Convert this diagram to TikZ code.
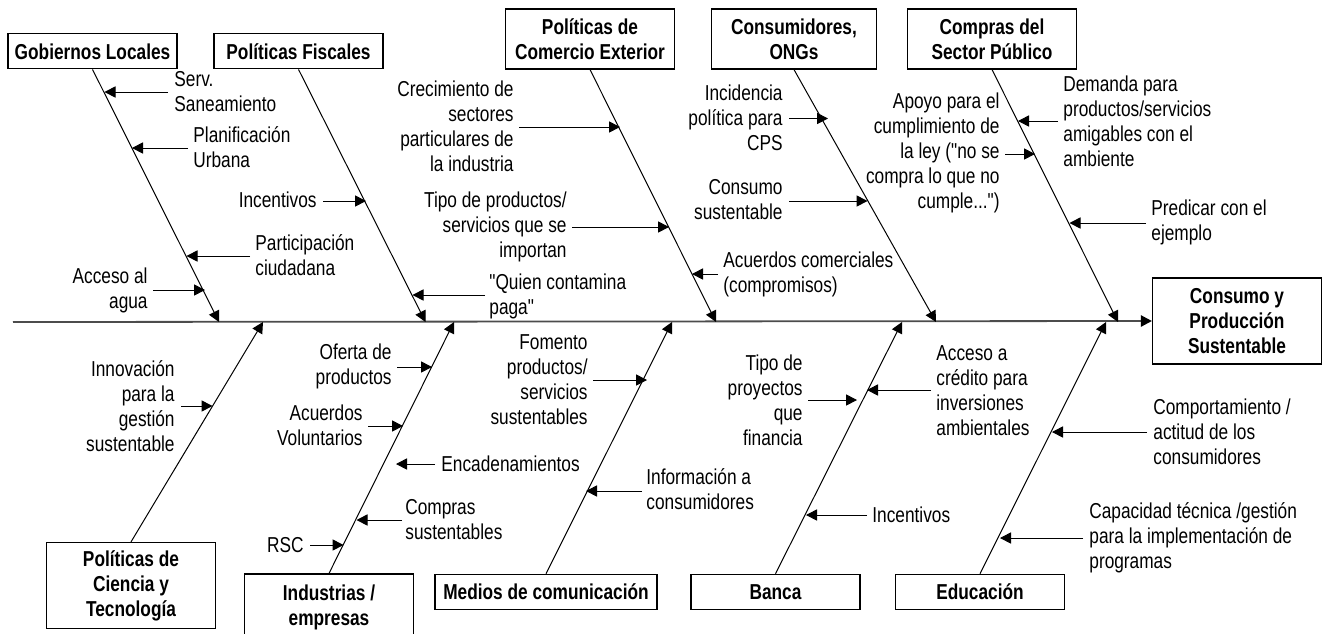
\documentclass[tikz,border=0pt]{standalone}
\usepackage{fontspec}
\setmainfont{Liberation Sans}[FakeStretch=0.80,Ligatures=TeXOff]
\usetikzlibrary{arrows.meta,positioning}

\tikzset{
  causebox/.style={draw,line width=0.6pt,inner sep=0pt,align=center,
    font=\bfseries\fontsize{10.8}{12.5}\selectfont,
    minimum width=84.5pt,minimum height=17.5pt},
  sublbl/.style={inner sep=0pt,font=\fontsize{10.8}{12.5}\selectfont},
  onleft/.style={anchor=east,align=right},
  onright/.style={anchor=west,align=left},
  tip/.style={-{Triangle[length=5.5pt,width=5.6pt,color=black]}},
  bone/.style={tip,line width=0.5pt},
  spine/.style={tip,line width=0.9pt,draw=black!70}
}

\begin{document}
\begin{tikzpicture}[x=0.5pt,y=-0.5pt]
  \useasboundingbox (0,0) rectangle (1328,633);

  % effect and spine
  \node[causebox,minimum height=43pt] (efecto) at (1237,321) {Consumo y\\Producción\\Sustentable};
  \coordinate (cola) at (13,322);
  \draw[spine] (cola) -- (efecto.west);

  % main causes, top row
  \node[causebox] (gob) at (92.5,51.3) {Gobiernos Locales};
  \node[causebox] (fis) at (298.5,51.3) {Políticas Fiscales};
  \node[causebox,minimum height=30pt] (com) at (590,39) {Políticas de\\Comercio Exterior};
  \node[causebox,minimum height=30pt,minimum width=82.5pt] (con) at (794,39) {Consumidores,\\ONGs};
  \node[causebox,minimum height=30pt] (cmp) at (992,39) {Compras del\\Sector Público};

  % main causes, bottom row
  \node[causebox,minimum height=43pt] (cie) at (131,585.5) {Políticas de\\Ciencia y\\Tecnología};
  \node[causebox,minimum height=33pt] (ind) at (329,607) {Industrias /\\empresas};
  \node[causebox,minimum width=111pt] (med) at (546,591.8) {Medios de comunicación};
  \node[causebox] (ban) at (775.5,591.8) {Banca};
  \node[causebox] (edu) at (980,591.8) {Educación};

  % bones
  \foreach \b/\sx in {gob/219,fis/425.5,com/716,con/936,cmp/1118} {
    \coordinate (\b-sp) at (\sx,322);
    \draw[bone] (\b.south) -- (\b-sp);
  }
  \foreach \b/\sx in {cie/263,ind/454,med/672,ban/902,edu/1106} {
    \coordinate (\b-sp) at (\sx,322);
    \draw[bone] (\b.north) -- (\b-sp);
  }

  % sub-causes
  \foreach \txt/\pos/\tx/\ty/\ax/\bx/\ay [count=\i] in {
      {Serv.\\Saneamiento}/onright/174/92/168/104.5/92,
      {Planificación\\Urbana}/onright/193/147.5/188/132/148,
      {Participación\\ciudadana}/onright/255/255.5/250/186.5/256,
      {Acceso al\\agua}/onleft/148/290.5/153/205/290,
      {Incentivos}/onleft/317/200/323/366/201,
      {"Quien contamina\\paga"}/onright/489/296/485/412.5/295,
      {Crecimiento de\\sectores\\particulares de\\la industria}/onleft/514/126.5/519/620/127,
      {Tipo de productos/\\servicios que se\\importan}/onleft/567/227/572/669/227,
      {Acuerdos comerciales\\(compromisos)}/onright/723/274.5/718/692/274,
      {Incidencia\\política para\\CPS}/onleft/783/118/789/828/118.5,
      {Consumo\\sustentable}/onleft/783/200/789/867.5/201,
      {Apoyo para el\\cumplimiento de\\la ley ("no se\\compra lo que no\\cumple...")}/onleft/1000/153/1005/1035/154,
      {Demanda para\\productos/servicios\\amigables con el\\ambiente}/onright/1063/121/1058/1018/121,
      {Predicar con el\\ejemplo}/onright/1151/222.5/1146/1069.5/223,
      {Innovación\\para la\\gestión\\sustentable}/onleft/175/406/181/212.5/406,
      {Oferta de\\productos}/onleft/392/366/397/432/367,
      {Acuerdos\\Voluntarios}/onleft/363/425.5/368/403/426,
      {Encadenamientos}/onright/441/464/435/396/464,
      {Compras\\sustentables}/onright/405/520/402/356.5/520,
      {RSC}/onleft/304/545/310/343.5/545,
      {Fomento\\productos/\\servicios\\sustentables}/onleft/588/379.5/593/647/380,
      {Información a\\consumidores}/onright/646/489/642/586/491,
      {Tipo de\\proyectos\\que\\financia}/onleft/803/400/808/857/400,
      {Acceso a\\crédito para\\inversiones\\ambientales}/onright/936/390.5/931/867/390,
      {Incentivos}/onright/872/515/867/806/515,
      {Comportamiento /\\actitud de los\\consumidores}/onright/1153/432/1147/1052/432,
      {Capacidad técnica /gestión\\para la implementación de\\programas}/onright/1089/537.5/1083/1000/538} {
    \node[sublbl,\pos] (sub\i) at (\tx,\ty) {\txt};
    \coordinate (sub\i-a) at (\ax,\ay);
    \coordinate (sub\i-b) at (\bx,\ay);
    \draw[bone] (sub\i-a) -- (sub\i-b);
  }
\end{tikzpicture}
\end{document}
